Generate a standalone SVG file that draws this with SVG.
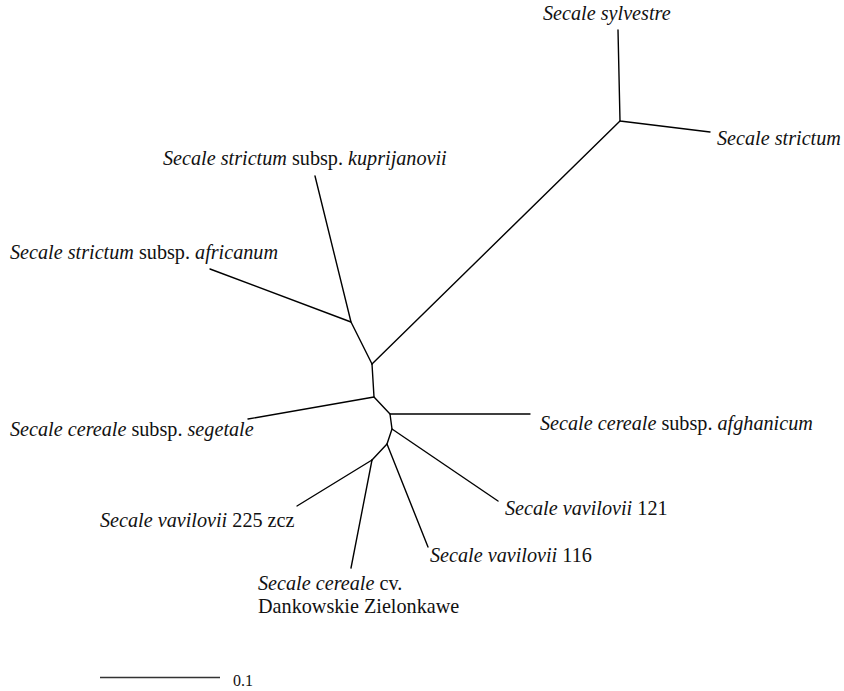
<svg xmlns="http://www.w3.org/2000/svg" width="844" height="691" viewBox="0 0 844 691">
<style>
.br{stroke:#000;stroke-width:1.4;fill:none;stroke-linecap:round;stroke-linejoin:round}
.lb{font-family:"Liberation Serif","Times New Roman",serif;font-size:20.2px;fill:#111}
.it{font-style:italic}
.sc{font-family:"Liberation Serif","Times New Roman",serif;font-size:16px;fill:#111}
</style>
<rect width="844" height="691" fill="#fff"/>
<g id="connectors">
<polyline class="br" points="620,121 372,364"/>
<polyline class="br" points="618,30 620,121 710,132"/>
<polyline class="br" points="315,176 351,322 372,364"/>
<polyline class="br" points="210,269 351,322"/>
<polyline class="br" points="372,364 374,397 390,414 392,429 387,444 372,460"/>
<polyline class="br" points="248,419 374,397"/>
<polyline class="br" points="390,414 530,414"/>
<polyline class="br" points="392,429 498,501"/>
<polyline class="br" points="387,444 428,547"/>
<polyline class="br" points="372,460 297,506"/>
<polyline class="br" points="372,460 351,568"/>
</g>
<g id="leaf-sylvestre"><text class="lb it" x="543" y="20">Secale sylvestre</text></g>
<g id="leaf-strictum"><text class="lb it" x="717" y="145">Secale strictum</text></g>
<g id="leaf-kuprijanovii"><text class="lb" x="163" y="165"><tspan class="it">Secale strictum</tspan> subsp. <tspan class="it">kuprijanovii</tspan></text></g>
<g id="leaf-africanum"><text class="lb" x="10" y="259"><tspan class="it">Secale strictum</tspan> subsp. <tspan class="it">africanum</tspan></text></g>
<g id="leaf-segetale"><text class="lb" x="10" y="436"><tspan class="it">Secale cereale</tspan> subsp. <tspan class="it">segetale</tspan></text></g>
<g id="leaf-afghanicum"><text class="lb" x="540" y="430"><tspan class="it">Secale cereale</tspan> subsp. <tspan class="it">afghanicum</tspan></text></g>
<g id="leaf-vav121"><text class="lb" x="505" y="515"><tspan class="it">Secale vavilovii</tspan> 121</text></g>
<g id="leaf-vav225"><text class="lb" x="100" y="527"><tspan class="it">Secale vavilovii</tspan> 225 zcz</text></g>
<g id="leaf-vav116"><text class="lb" x="430" y="562"><tspan class="it">Secale vavilovii</tspan> 116</text></g>
<g id="leaf-dankowskie"><text class="lb" x="258" y="590"><tspan class="it">Secale cereale</tspan> cv.</text><text class="lb" x="258" y="613">Dankowskie Zielonkawe</text></g>
<g id="scale-bar"><line x1="100" y1="677.5" x2="220" y2="677.5" stroke="#333" stroke-width="1.4"/><text class="sc" x="233" y="686">0.1</text></g>
</svg>
